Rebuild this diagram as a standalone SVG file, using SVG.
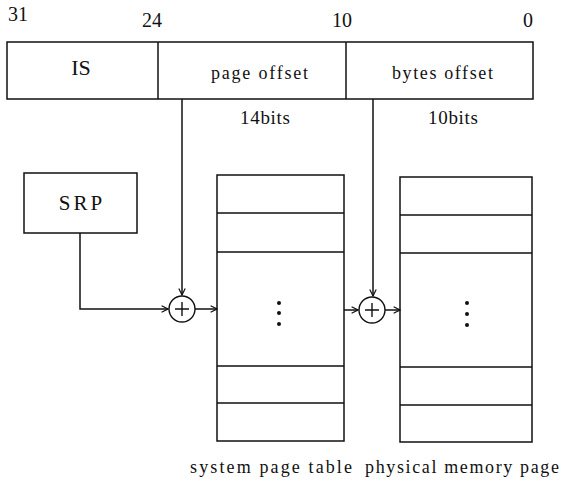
<svg xmlns="http://www.w3.org/2000/svg" width="561" height="481" viewBox="0 0 561 481">
<style>
.l{fill:none;stroke:#111;stroke-width:1.5}
.t{font-family:"Liberation Serif","Times New Roman",serif;fill:#111}
.c{stroke:#111;stroke-width:1.4;fill:none}
</style>
<defs>
<marker id="a" viewBox="0 0 10 10" refX="9" refY="5" markerWidth="8" markerHeight="8" markerUnits="userSpaceOnUse" orient="auto">
<path d="M1 1 L9 5 L1 9" fill="none" stroke="#111" stroke-width="1.5"/>
</marker>
</defs>
<rect width="561" height="481" fill="#fff"/>
<g id="bits" class="t" font-size="20">
<text x="8" y="21">31</text>
<text x="142" y="27">24</text>
<text x="332" y="27">10</text>
<text x="523" y="27">0</text>
</g>
<g id="register">
<rect class="l" x="7" y="42" width="526" height="57"/>
<line class="l" x1="158" y1="42" x2="158" y2="99"/>
<line class="l" x1="346" y1="42" x2="346" y2="99"/>
<text class="t" x="81" y="75" font-size="22" text-anchor="middle">IS</text>
<text class="t" x="211" y="79" font-size="18" textLength="97" lengthAdjust="spacing">page offset</text>
<text class="t" x="392" y="79" font-size="18" textLength="101" lengthAdjust="spacing">bytes offset</text>
</g>
<g id="widths" class="t" font-size="19">
<text x="240" y="124" textLength="50" lengthAdjust="spacing">14bits</text>
<text x="428" y="124" textLength="50" lengthAdjust="spacing">10bits</text>
</g>
<g id="srp">
<rect class="l" x="24" y="173" width="113" height="60"/>
<text class="t" x="82" y="210" font-size="21" text-anchor="middle" letter-spacing="3">SRP</text>
</g>
<g id="adder1">
<circle class="c" cx="182" cy="309" r="13"/>
<path class="c" d="M175 309 H189 M182 302 V316" stroke-width="1"/>
</g>
<g id="adder2">
<circle class="c" cx="372" cy="310" r="13"/>
<path class="c" d="M365 310 H379 M372 303 V317" stroke-width="1"/>
</g>
<g id="system-page-table">
<rect class="l" x="217" y="175" width="127" height="266"/>
<path class="l" d="M217 213 H344 M217 252 H344 M217 366 H344 M217 403 H344"/>
<circle cx="279" cy="303" r="2" fill="#111"/>
<circle cx="279" cy="313" r="2" fill="#111"/>
<circle cx="279" cy="324" r="2" fill="#111"/>
<text class="t" x="190" y="473" font-size="18" textLength="162" lengthAdjust="spacing">system page table</text>
</g>
<g id="physical-memory-page">
<rect class="l" x="400" y="177" width="132" height="265"/>
<path class="l" d="M400 215 H532 M400 253 H532 M400 367 H532 M400 405 H532"/>
<circle cx="467" cy="303" r="2" fill="#111"/>
<circle cx="467" cy="314" r="2" fill="#111"/>
<circle cx="467" cy="325" r="2" fill="#111"/>
<text class="t" x="365" y="473" font-size="18" textLength="194" lengthAdjust="spacing">physical memory page</text>
</g>
<g id="connectors" class="l">
<path d="M182 99 V295" marker-end="url(#a)"/>
<path d="M80 233 V309 H168" marker-end="url(#a)"/>
<path d="M195 309 H217" marker-end="url(#a)"/>
<path d="M373 99 V296" marker-end="url(#a)"/>
<path d="M344 310 H358" marker-end="url(#a)"/>
<path d="M385 310 H400" marker-end="url(#a)"/>
</g>
</svg>
